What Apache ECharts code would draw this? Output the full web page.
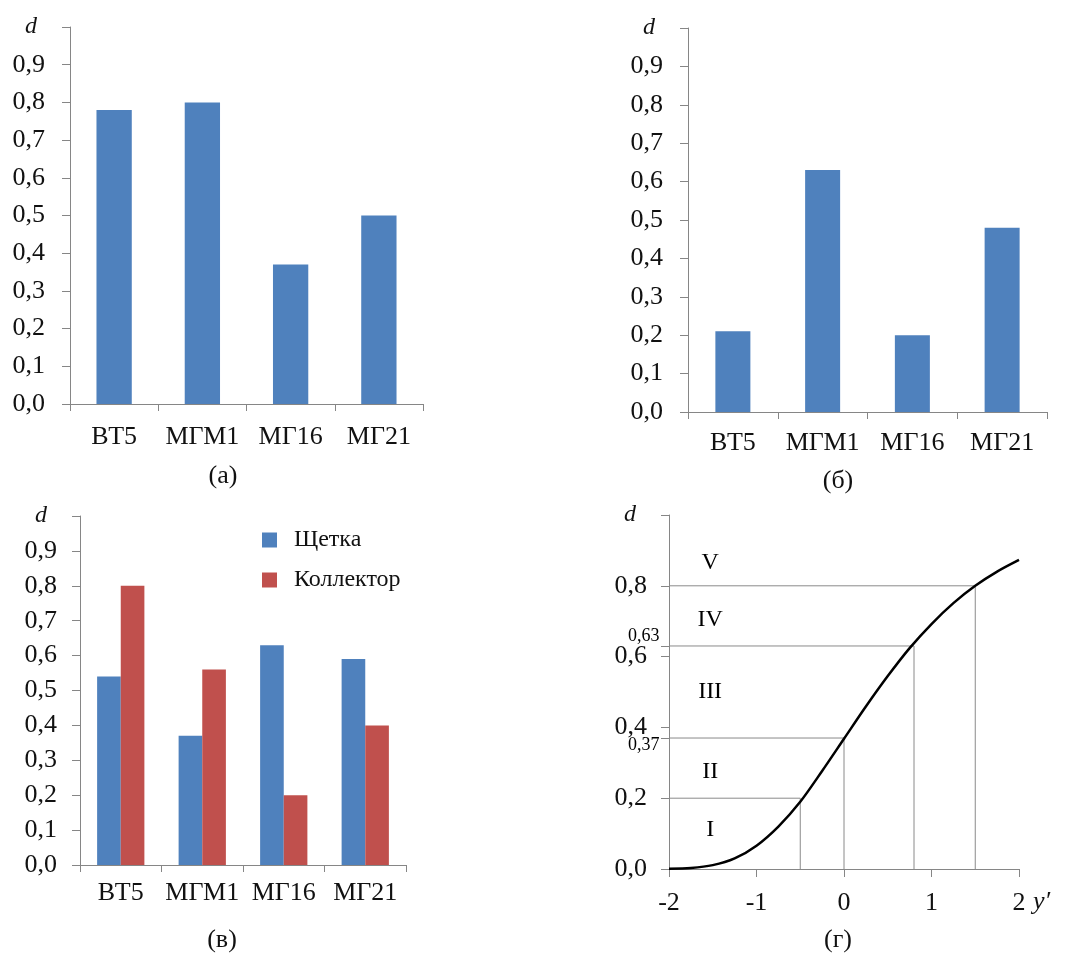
<!DOCTYPE html>
<html><head><meta charset="utf-8">
<script src="https://cdn.jsdelivr.net/npm/echarts@6/dist/echarts.min.js"></script>
<style>html,body{margin:0;padding:0;background:#fff}#c{width:1080px;height:958px}</style>
</head><body><div id="c"></div>
<script>
// ---- data ----
const categories = ['ВТ5', 'МГМ1', 'МГ16', 'МГ21'];
const valuesA = [0.78, 0.80, 0.37, 0.50];
const valuesB = [0.21, 0.63, 0.20, 0.48];
const seriesNamesC = ['Щетка', 'Коллектор'];
const brushValues = [0.54, 0.37, 0.63, 0.59];
const collectorValues = [0.80, 0.56, 0.20, 0.40];
const curveY = [-2, -1.75, -1.5, -1.25, -1, -0.75, -0.5, -0.25, 0, 0.25, 0.5, 0.75, 1, 1.25, 1.5, 1.75, 2];
const curveD = [0.001, 0.003, 0.011, 0.03, 0.066, 0.12, 0.19, 0.277, 0.368, 0.459, 0.545, 0.624, 0.692, 0.751, 0.80, 0.84, 0.873];
const levelD = [0.2, 0.37, 0.63, 0.8];
const levelY = [-0.5, 0, 0.8, 1.5];
const specialTickD = [0.63, 0.37];
const dTicks = [0, 0.2, 0.4, 0.6, 0.8, 1.0];
const zoneNames = ['I', 'II', 'III', 'IV', 'V'];
const zoneD = [0.11, 0.275, 0.50, 0.705, 0.865];
const zoneY = [-1.53, -1.53, -1.53, -1.53, -1.53];
const captions = ['(а)', '(б)', '(в)', '(г)'];
const yAxisName = 'd';
const xAxisNameD = 'y′';

// ---- styles ----
const FONT = '"Liberation Serif", "Times New Roman", serif';
const AX = '#868686';
const TXT = '#111';
const BLUE = '#4F81BD';
const RED = '#C0504D';

const commaFmt = (digits) => (v) => v > 0.95 ? '' : v.toFixed(digits).replace('.', ',');

function barYAxis(gi, margin) {
  return {
    type: 'value', gridIndex: gi, min: 0, max: 1, interval: 0.1,
    name: yAxisName, nameLocation: 'end', nameGap: 0,
    nameTextStyle: { fontFamily: FONT, fontStyle: 'italic', fontSize: 24, color: TXT, align: 'right', verticalAlign: 'middle', padding: [0, 33, 0, 0] },
    axisLine: { show: true, onZero: false, lineStyle: { color: AX, width: 1 } },
    axisTick: { show: true, length: 8, lineStyle: { color: AX } },
    splitLine: { show: false },
    axisLabel: { fontFamily: FONT, fontSize: 26, color: TXT, margin: margin, formatter: commaFmt(1) }
  };
}
function catXAxis(gi, margin) {
  return {
    type: 'category', gridIndex: gi, data: categories,
    axisLine: { lineStyle: { color: AX, width: 1 } },
    axisTick: { show: true, length: 7, alignWithLabel: false, lineStyle: { color: AX } },
    axisLabel: { fontFamily: FONT, fontSize: 26, color: TXT, margin: margin, interval: 0 }
  };
}

const levelSeries = levelD.map((d, i) => ({
  type: 'line', xAxisIndex: 3, yAxisIndex: 3, data: [[-2, d], [levelY[i], d], [levelY[i], 0]],
  symbol: 'none', lineStyle: { color: '#8a8a8a', width: 1 }, z: 2, silent: true
}));

const yAxisD = barYAxis(3, 22);
yAxisD.interval = 0.2;
yAxisD.axisTick = { show: true, length: 8, lineStyle: { color: AX },
  customValues: dTicks.concat(specialTickD).sort((a, b) => a - b) };
yAxisD.axisLabel.customValues = dTicks;

const option = {
  animation: false,
  backgroundColor: '#fff',
  title: [
    { text: captions[0], left: 218, top: 458, textAlign: 'center', textStyle: { fontFamily: FONT, fontSize: 26, fontWeight: 'normal', color: TXT } },
    { text: captions[1], left: 833, top: 463, textAlign: 'center', textStyle: { fontFamily: FONT, fontSize: 26, fontWeight: 'normal', color: TXT } },
    { text: captions[2], left: 217, top: 922, textAlign: 'center', textStyle: { fontFamily: FONT, fontSize: 26, fontWeight: 'normal', color: TXT } },
    { text: captions[3], left: 833, top: 922, textAlign: 'center', textStyle: { fontFamily: FONT, fontSize: 26, fontWeight: 'normal', color: TXT } }
  ],
  legend: {
    left: 257, top: 523, orient: 'vertical', itemWidth: 15, itemHeight: 15, itemGap: 16,
    icon: 'rect', data: seriesNamesC,
    textStyle: { fontFamily: FONT, fontSize: 24, color: TXT, padding: [0, 0, 0, 12] }
  },
  grid: [
    { left: 70, top: 27, width: 353, height: 377 },
    { left: 688, top: 28, width: 359, height: 384 },
    { left: 80, top: 516, width: 326, height: 349 },
    { left: 669, top: 515, width: 350, height: 354 }
  ],
  xAxis: [
    catXAxis(0, 20), catXAxis(1, 18), catXAxis(2, 15),
    {
      type: 'value', gridIndex: 3, min: -2, max: 2, interval: 1,
      name: xAxisNameD, nameLocation: 'end', nameGap: 14,
      nameTextStyle: { fontFamily: FONT, fontStyle: 'italic', fontSize: 26, color: TXT, verticalAlign: 'top', padding: [20, 0, 0, 0] },
      axisLine: { onZero: false, lineStyle: { color: AX, width: 1 } },
      axisTick: { show: true, length: 8, lineStyle: { color: AX } },
      splitLine: { show: false },
      axisLabel: { fontFamily: FONT, fontSize: 26, color: TXT, margin: 21, formatter: (v) => String(v) }
    }
  ],
  yAxis: [
    barYAxis(0, 25), barYAxis(1, 25), barYAxis(2, 23), yAxisD
  ],
  series: [
    { type: 'bar', xAxisIndex: 0, yAxisIndex: 0, data: valuesA, itemStyle: { color: BLUE }, barCategoryGap: '60%' },
    { type: 'bar', xAxisIndex: 1, yAxisIndex: 1, data: valuesB, itemStyle: { color: BLUE }, barCategoryGap: '61%' },
    { type: 'bar', name: seriesNamesC[0], xAxisIndex: 2, yAxisIndex: 2, data: brushValues, itemStyle: { color: BLUE }, barGap: '0%', barCategoryGap: '42%' },
    { type: 'bar', name: seriesNamesC[1], xAxisIndex: 2, yAxisIndex: 2, data: collectorValues, itemStyle: { color: RED }, barGap: '0%', barCategoryGap: '42%' },
    ...levelSeries,
    {
      type: 'line', xAxisIndex: 3, yAxisIndex: 3, data: curveY.map((y, i) => [y, curveD[i]]),
      symbol: 'none', smooth: 0.3, lineStyle: { color: '#000', width: 2.5 }, z: 5
    },
    {
      type: 'scatter', xAxisIndex: 3, yAxisIndex: 3, clip: false, symbolSize: 1,
      itemStyle: { color: 'rgba(255,255,255,0)' },
      data: zoneNames.map((n, i) => ({ name: n, value: [zoneY[i], zoneD[i]] })),
      label: { show: true, position: 'inside', formatter: (p) => p.name, fontFamily: FONT, fontSize: 24, color: '#000', opacity: 1 }
    },
    {
      type: 'scatter', xAxisIndex: 3, yAxisIndex: 3, clip: false, symbolSize: 1,
      itemStyle: { color: 'rgba(255,255,255,0)' },
      data: specialTickD.map((d, i) => ({ name: d.toFixed(2).replace('.', ','), value: [-2, d],
        label: { offset: [0, i === 0 ? -10 : 7] } })),
      label: { show: true, position: 'left', distance: 9, formatter: (p) => p.name, fontFamily: FONT, fontSize: 18, color: '#000', opacity: 1 }
    }
  ]
};
const chart = echarts.init(document.getElementById('c'), null, { renderer: 'canvas' });
chart.setOption(option);
</script>
</body></html>
